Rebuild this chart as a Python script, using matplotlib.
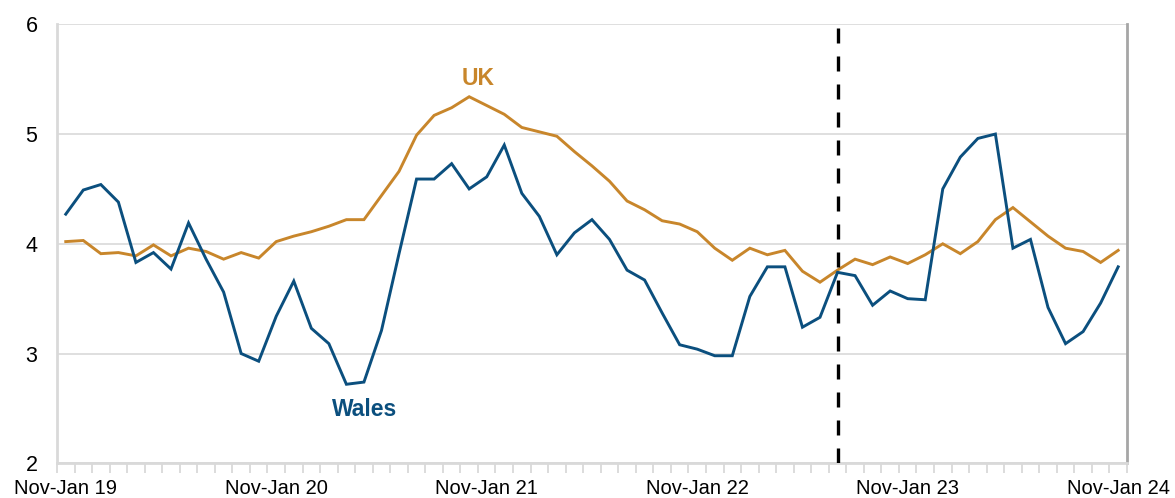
import matplotlib
matplotlib.use("Agg")
import matplotlib.pyplot as plt
import numpy as np

plt.rcParams['font.family'] = ['Liberation Sans', 'DejaVu Sans']

# rolling three-month periods, Nov-Jan 19 ... Nov-Jan 24
start_months = ["Nov", "Dec", "Jan", "Feb", "Mar", "Apr", "May", "Jun", "Jul", "Aug", "Sep", "Oct"]
end_months = ["Jan", "Feb", "Mar", "Apr", "May", "Jun", "Jul", "Aug", "Sep", "Oct", "Nov", "Dec"]
periods = []
for k in range(61):
    yr = 19 + k // 12 + (1 if (k % 12) >= 11 else 0)
    periods.append(f"{start_months[k % 12]}-{end_months[k % 12]} {yr}")

wales = [4.27, 4.49, 4.54, 4.38, 3.83, 3.92, 3.77, 4.19, 3.86, 3.56,
         3.00, 2.93, 3.34, 3.66, 3.23, 3.09, 2.72, 2.74, 3.21, 3.91,
         4.59, 4.59, 4.73, 4.50, 4.61, 4.90, 4.46, 4.25, 3.90, 4.10,
         4.22, 4.04, 3.76, 3.67, 3.37, 3.08, 3.04, 2.98, 2.98, 3.52,
         3.79, 3.79, 3.24, 3.33, 3.74, 3.71, 3.44, 3.57, 3.50, 3.49,
         4.50, 4.79, 4.96, 5.00, 3.96, 4.04, 3.42, 3.09, 3.20, 3.46,
         3.79]
uk = [4.02, 4.03, 3.91, 3.92, 3.89, 3.99, 3.89, 3.96, 3.93, 3.86,
      3.92, 3.87, 4.02, 4.07, 4.11, 4.16, 4.22, 4.22, 4.44, 4.66,
      4.99, 5.17, 5.24, 5.34, 5.26, 5.18, 5.06, 5.02, 4.98, 4.84,
      4.71, 4.57, 4.39, 4.31, 4.21, 4.18, 4.11, 3.96, 3.85, 3.96,
      3.90, 3.94, 3.75, 3.65, 3.76, 3.86, 3.81, 3.88, 3.82, 3.90,
      4.00, 3.91, 4.02, 4.22, 4.33, 4.20, 4.07, 3.96, 3.93, 3.83,
      3.94]
tick_labels = ["Nov-Jan 19", "Nov-Jan 20", "Nov-Jan 21", "Nov-Jan 22", "Nov-Jan 23", "Nov-Jan 24"]
break_period = 44  # index of series break (dashed line)

WALES_C = "#0b4f7e"
UK_C = "#c8862b"
GRID_C = "#d9d9d9"

fig = plt.figure(figsize=(11.75, 4.98), dpi=100)
ax = fig.add_axes([0.0485, 0.0697, 0.9106, 0.8815])

x = np.arange(len(periods))
ax.plot(x, uk, color=UK_C, lw=2.1, solid_joinstyle='miter', zorder=3)
ax.plot(x, wales, color=WALES_C, lw=2.1, solid_joinstyle='miter', zorder=4)

ax.axvline(break_period, color="black", lw=2.4, dashes=(4.5, 3.9), zorder=5)

ax.set_xlim(-0.5, len(periods) - 0.5)
ax.set_ylim(2, 6)
ax.set_yticks([2, 3, 4, 5, 6])
ax.yaxis.grid(True, color=GRID_C, lw=1.2)
ax.set_axisbelow(True)
ax.tick_params(axis='y', length=0, pad=14, labelsize=15.5)

major = [i for i in range(len(periods)) if i % 12 == 0]
ax.set_xticks(major)
ax.set_xticklabels(tick_labels)
ax.set_xticks(np.arange(-0.5, len(periods)), minor=True)
ax.tick_params(axis='x', which='major', length=0, pad=11, labelsize=14.5)
ax.tick_params(axis='x', which='minor', length=7, width=1.3, color=GRID_C, direction='out')

for s in ['left', 'bottom']:
    ax.spines[s].set_color(GRID_C)
    ax.spines[s].set_linewidth(2)
ax.spines['top'].set_visible(False)
ax.spines['right'].set_color("#a6a6a6")
ax.spines['right'].set_linewidth(2)

ax.text(23.5, 5.51, "UK", color=UK_C, fontsize=16.5, fontweight='bold', ha='center', va='center')
ax.text(17.06, 2.49, "Wales", color=WALES_C, fontsize=16.5, fontweight='bold', ha='center', va='center')

fig.savefig("out.png", dpi=100)
